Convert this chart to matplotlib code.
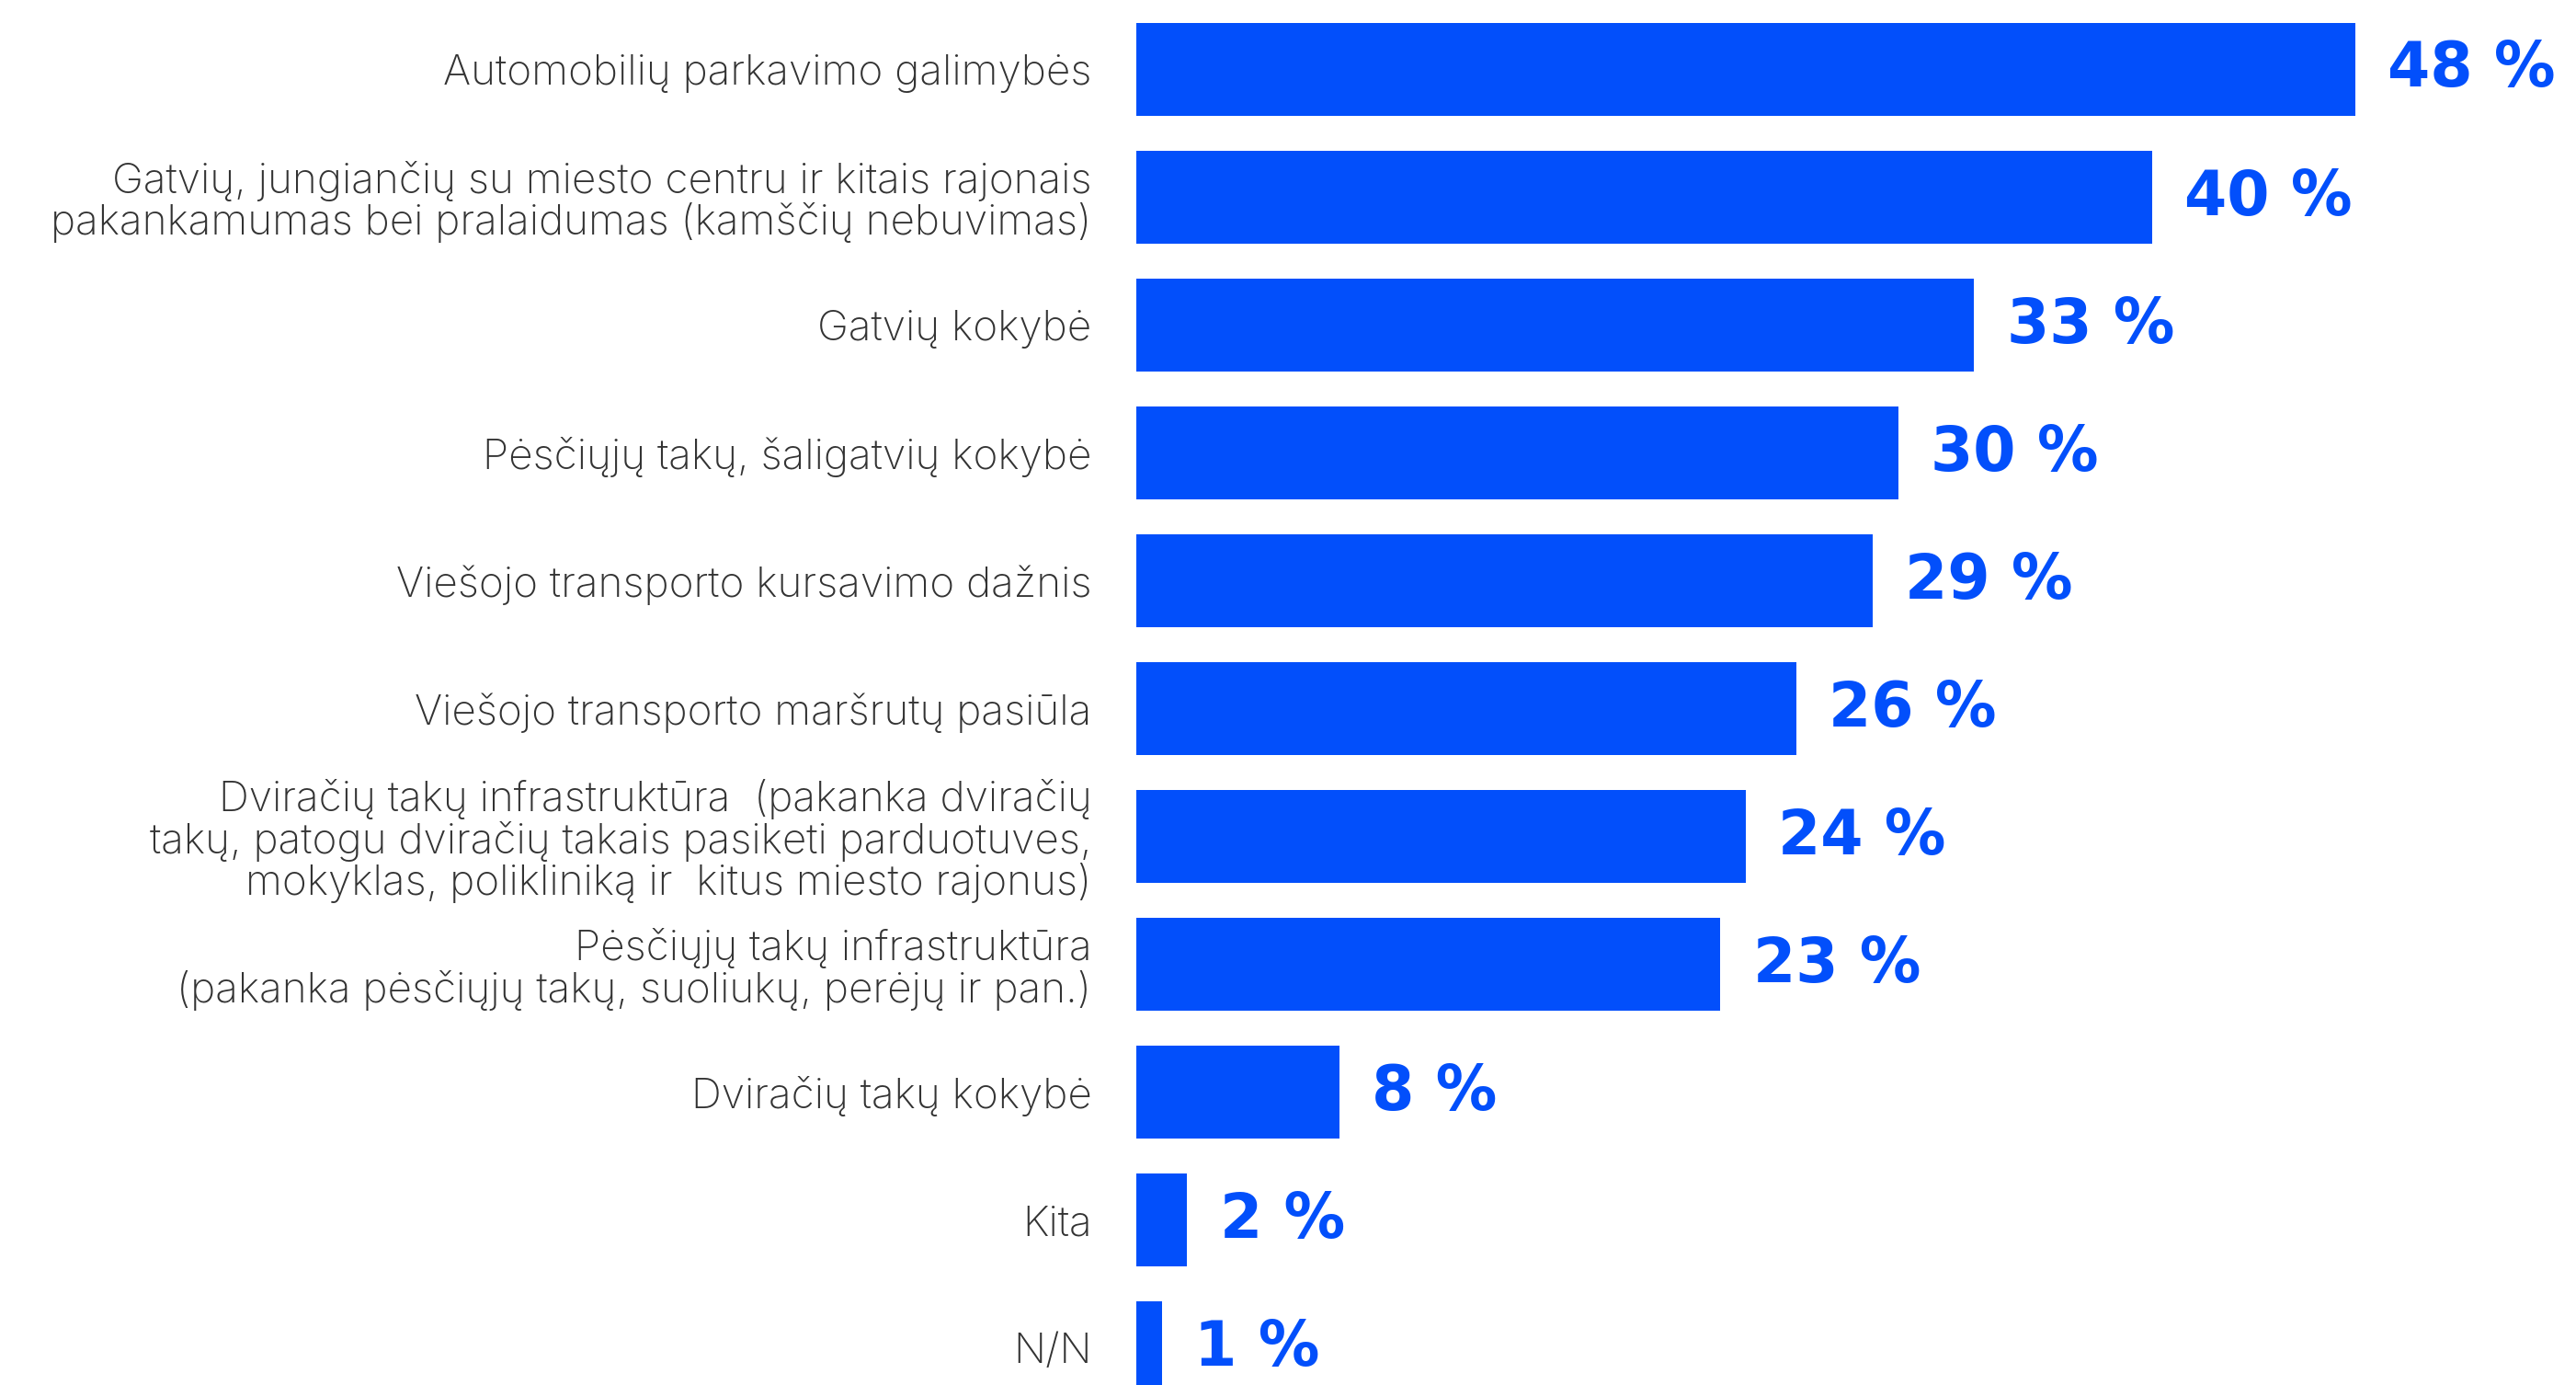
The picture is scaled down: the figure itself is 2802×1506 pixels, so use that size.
import matplotlib
matplotlib.use('Agg')
import matplotlib.pyplot as plt

categories = [
    'Automobilių parkavimo galimybės',
    'Gatvių, jungiančių su miesto centru ir kitais rajonais\npakankamumas bei pralaidumas (kamščių nebuvimas)',
    'Gatvių kokybė',
    'Pėsčiųjų takų, šaligatvių kokybė',
    'Viešojo transporto kursavimo dažnis',
    'Viešojo transporto maršrutų pasiūla',
    'Dviračių takų infrastruktūra  (pakanka dviračių\ntakų, patogu dviračių takais pasiketi parduotuves,\nmokyklas, polikliniką ir  kitus miesto rajonus)',
    'Pėsčiųjų takų infrastruktūra\n(pakanka pėsčiųjų takų, suoliukų, perėjų ir pan.)',
    'Dviračių takų kokybė',
    'Kita',
    'N/N',
]
values = [48, 40, 33, 30, 29, 26, 24, 23, 8, 2, 1]

blue = '#024FFB'

fig = plt.figure(figsize=(28.02, 15.06), dpi=100)
ax = fig.add_axes([1236 / 2802, 0, 1 - 1236 / 2802, 1])

pos = list(range(len(values)))
ax.barh(pos, values, height=0.727, color=blue)
ax.set_xlim(0, 56.7)
ax.set_ylim(10.29, -0.543)

# value labels to the right of each bar
for p, v in zip(pos, values):
    ax.text(v + 1.28, p, f'{v} %', va='center', ha='left', color=blue,
            fontsize=48, family='DejaVu Sans', weight='bold')

ax.set_yticks(pos)
ax.set_yticklabels(categories, fontsize=33, color='#333333',
                   family=['Inter', 'DejaVu Sans'], weight='light',
                   linespacing=1.04)
ax.tick_params(axis='y', length=0, pad=35)
ax.set_xticks([])
for s in ax.spines.values():
    s.set_visible(False)

fig.savefig('out.png', dpi=100)
